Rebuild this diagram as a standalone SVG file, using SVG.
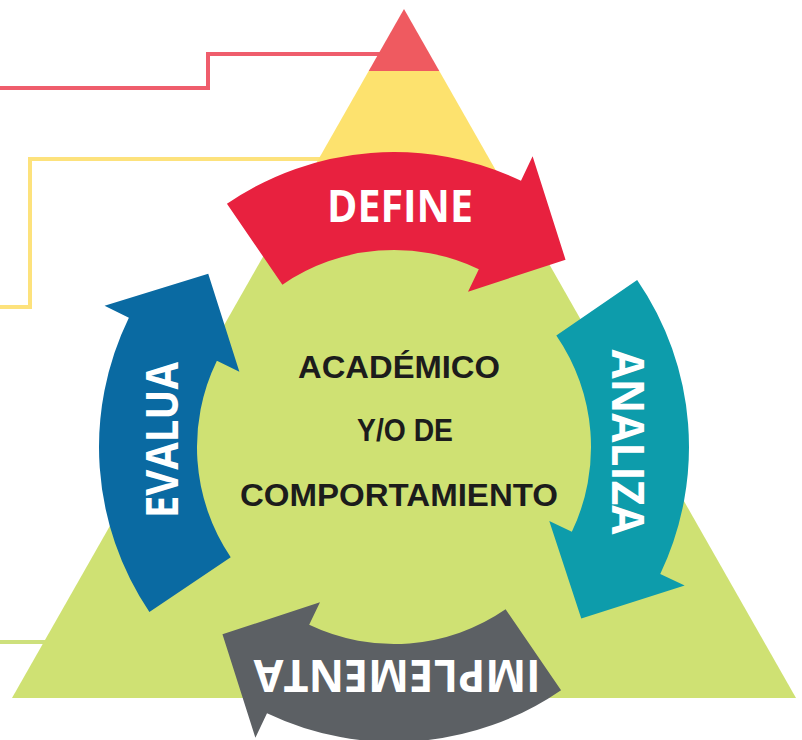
<svg xmlns="http://www.w3.org/2000/svg" xmlns:xlink="http://www.w3.org/1999/xlink" width="802" height="740" viewBox="0 0 802 740">
<style>
.lbl{font-family:"Open Sans",Lato,"Liberation Sans",sans-serif;font-weight:bold;font-size:44px;fill:#ffffff;text-anchor:middle}
.ctr{font-family:"Liberation Sans",Arial,sans-serif;font-weight:bold;font-size:32px;fill:#1c1c1c;text-anchor:middle}
.ln{fill:none;stroke-width:4}
</style>
<defs>
<path id="arw" d="M 232.5,-181.6 A 295 295 0 0 1 273.5,110.5 L 298.6,120.6 L 197.4,159.8 L 159.5,64.4 L 182.7,73.8 A 197 197 0 0 0 155.2,-121.3 Z"/>
</defs>
<rect width="802" height="740" fill="#ffffff"/>
<g id="connectors">
<polyline class="ln" stroke="#ef5d6c" points="0,88 208,88 208,54 390,54"/>
<polyline class="ln" stroke="#fde27c" points="0,307 30,307 30,159 330,159"/>
<polyline class="ln" stroke="#cde07c" points="0,642 60,642"/>
</g>
<g id="pyramid">
<polygon id="tier-top" fill="#ef5a60" points="404,9 439.3,71 368.7,71"/>
<polygon id="tier-mid" fill="#fde26e" points="368.7,71 439.3,71 512.7,200 295.3,200"/>
<polygon id="tier-base" fill="#cfe173" points="295.3,200 512.7,200 796,698 12,698"/>
</g>
<g id="define">
<use xlink:href="#arw" href="#arw" fill="#e8213f" transform="translate(394,447) rotate(273.5)"/>
<text class="lbl" x="400" y="222" textLength="146" lengthAdjust="spacingAndGlyphs">DEFINE</text>
</g>
<g id="analiza">
<use xlink:href="#arw" href="#arw" fill="#0d9cab" transform="translate(394,447) rotate(3.5)"/>
<text class="lbl" transform="translate(612,442) rotate(90)" x="0" y="0" textLength="185" lengthAdjust="spacingAndGlyphs">ANALIZA</text>
</g>
<g id="implementa">
<use xlink:href="#arw" href="#arw" fill="#5c6064" transform="translate(394,447) rotate(93.5)"/>
<text class="lbl" transform="translate(397,660) rotate(180)" x="0" y="0" textLength="287" lengthAdjust="spacingAndGlyphs">IMPLEMENTA</text>
</g>
<g id="evalua">
<use xlink:href="#arw" href="#arw" fill="#0a6aa2" transform="translate(394,447) rotate(184)"/>
<text class="lbl" transform="translate(178,440) rotate(-90)" x="0" y="0" textLength="156" lengthAdjust="spacingAndGlyphs">EVALUA</text>
</g>
<g id="center">
<text class="ctr" x="399" y="378" textLength="202" lengthAdjust="spacingAndGlyphs">ACADÉMICO</text>
<text class="ctr" x="405" y="441" textLength="96" lengthAdjust="spacingAndGlyphs">Y/O DE</text>
<text class="ctr" x="399" y="506" textLength="318" lengthAdjust="spacingAndGlyphs">COMPORTAMIENTO</text>
</g>
</svg>
